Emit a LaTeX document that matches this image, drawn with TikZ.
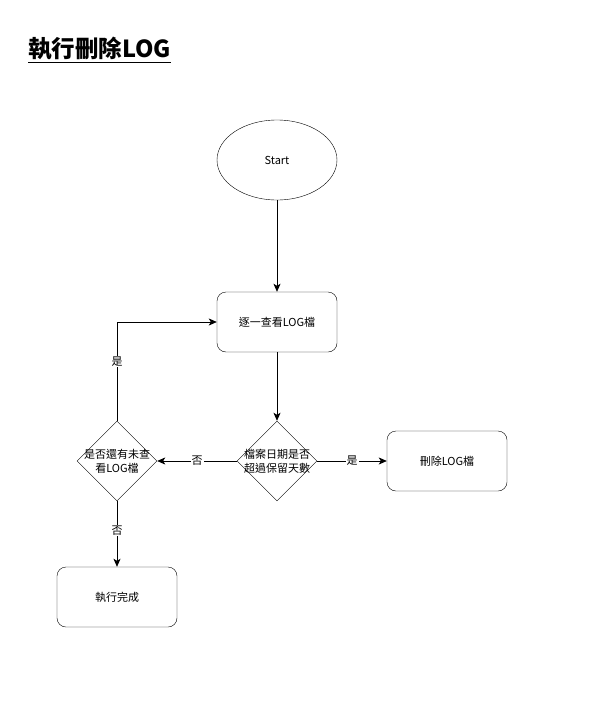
\documentclass[tikz,border=0pt]{standalone}
\usepackage{fontspec}
\setmainfont{Noto Sans CJK TC}
\usetikzlibrary{shapes.geometric,arrows.meta}
\begin{document}
\begin{tikzpicture}[x=1pt,y=-1pt,
  every node/.style={font=\fontsize{11}{14}\selectfont},
  proc/.style={draw,rounded corners=9pt,minimum width=120pt,minimum height=60pt,inner sep=0pt},
  term/.style={draw,ellipse,minimum width=120pt,minimum height=80pt,inner sep=0pt},
  decision/.style={draw,diamond,minimum width=80pt,minimum height=80pt,inner sep=0pt},
  flow/.style={-{Stealth[length=8pt,width=7pt,inset=2pt]},line width=0.8pt},
  tag/.style={fill=white,inner sep=1pt}]
\useasboundingbox (0,0) rectangle (610,704);
\node[anchor=west,font=\fontsize{23.5}{26}\selectfont\bfseries,inner sep=0pt] (title) at (28,50) {\underline{執行刪除LOG}};
\node[term] (start) at (277,160) {Start};
\node[proc] (scan) at (277,322) {逐一查看LOG檔};
\node[decision] (old) at (277,461) {};
\node[align=center] (oldtxt) at (old.center) {檔案日期是否\\超過保留天數};
\node[proc] (del) at (447,461) {刪除LOG檔};
\node[decision] (more) at (117,461) {};
\node[align=center] (moretxt) at (more.center) {是否還有未查\\看LOG檔};
\node[proc] (done) at (117,597) {執行完成};
\draw[flow] (start) -- (scan);
\draw[flow] (scan) -- (old);
\draw[flow] (old.east) -- node[tag] {是} (del.west);
\draw[flow] (old.west) -- node[tag,pos=0.5] {否} (more.east);
\draw[flow] (more.north) -- node[tag,pos=0.6] {是} (117,322) -- (scan.west);
\draw[flow] (more.south) -- node[tag,pos=0.45] {否} (done.north);
\end{tikzpicture}
\end{document}
